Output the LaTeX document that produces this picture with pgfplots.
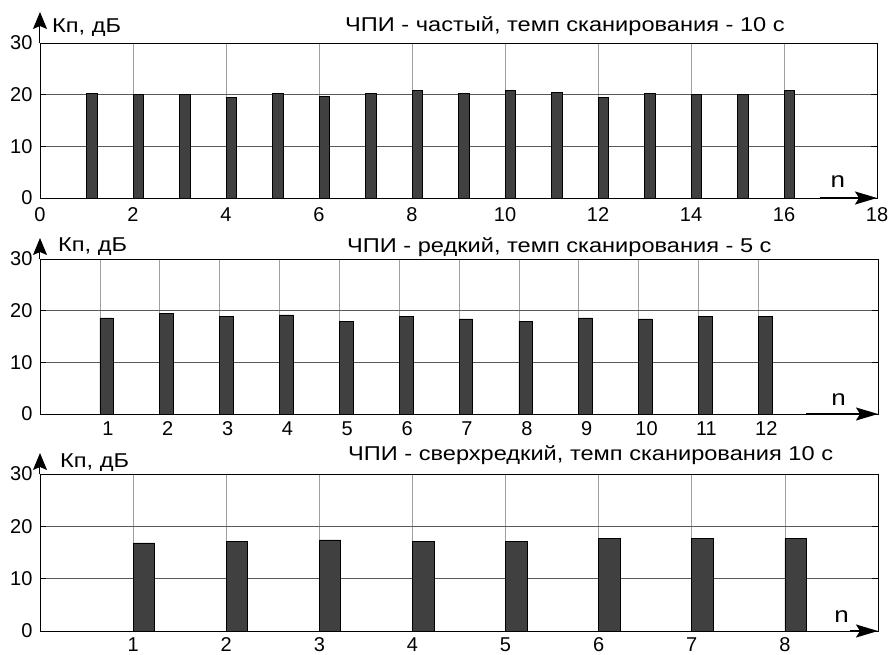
\documentclass[border=0pt]{standalone}
\usepackage{fontspec}
\setmainfont{Liberation Sans}
\newfontfamily\wide{Liberation Sans}[FakeStretch=1.18]
\usepackage{pgfplots}
\pgfplotsset{compat=1.18}
\usetikzlibrary{arrows.meta}
\definecolor{barc}{HTML}{404040}
\pgfplotsset{
  panel/.style={
    scale only axis, width=837pt, height=155pt,
    anchor=south west,
    ymin=0, ymax=30, ytick={0,10,20,30},
    xmajorgrids, ymajorgrids,
    x grid style={gray!75, line width=0.6pt},
    y grid style={black!65, line width=0.7pt},
    axis line style={black, line width=0.9pt},
    ytick style={black, line width=0.8pt},
    xtick style={draw=none},
    major tick length=6pt,
    tick label style={font=\fontsize{20}{24}\selectfont},
    yticklabel style={xshift=-4pt},
    /pgf/number format/assume math mode=true,
    clip=false,
    ybar, bar width=0.23, bar shift=0.115,
  },
}
\tikzset{
  bars/.style={fill=barc, draw=black, line width=0.6pt},
  lab/.style={anchor=base west, font=\wide\fontsize{20}{24}\selectfont, inner sep=0pt},
  nlab/.style={anchor=base, font=\wide\fontsize{22}{24}\selectfont, inner sep=0pt},
}
\begin{document}
\begin{tikzpicture}
\useasboundingbox (0,0) rectangle (891pt,-655pt);
% Panel 1
\begin{axis}[panel, at={(40pt,-198pt)}, xmin=0, xmax=18, xtick={0,2,...,18}]
\addplot[bars] coordinates {(1,20.3) (2,20.0) (3,20.0) (4,19.4) (5,20.3) (6,19.7) (7,20.3) (8,20.8)
 (9,20.3) (10,20.8) (11,20.5) (12,19.4) (13,20.3) (14,20.0) (15,20.0) (16,20.8)};
\draw[line width=1pt, arrows={-Stealth[length=17pt,width=14pt,inset=3pt]}] (rel axis cs:0,1) -- ++(0,31pt);
\draw[line width=1.5pt, arrows={-Stealth[length=22pt,width=13pt,inset=4pt]}] (axis cs:16.77,0) -- (rel axis cs:1,0);
\node[lab, xshift=12pt, yshift=10pt] at (rel axis cs:0,1) {Кп, дБ};
\node[lab, xshift=305pt, yshift=11pt] at (rel axis cs:0,1) {ЧПИ - частый, темп сканирования - 10 с};
\node[nlab, yshift=10pt] at (axis cs:17.16,0) {n};
\end{axis}
% Panel 2
\begin{axis}[panel, at={(40pt,-414pt)}, width=838pt, xmin=0, xmax=14, xtick={1,2,...,12},
  xticklabel style={xshift=8pt, yshift=2pt}]
\addplot[bars] coordinates {(1,18.6) (2,19.4) (3,18.9) (4,19.2) (5,18.0) (6,18.9)
 (7,18.4) (8,18.0) (9,18.6) (10,18.4) (11,18.9) (12,18.9)};
\draw[line width=1pt, arrows={-Stealth[length=17pt,width=14pt,inset=3pt]}] (rel axis cs:0,1) -- ++(0,21pt);
\draw[line width=1.5pt, arrows={-Stealth[length=22pt,width=13pt,inset=4pt]}] (axis cs:12.8,0) -- (rel axis cs:1,0);
\node[lab, xshift=18pt, yshift=8pt] at (rel axis cs:0,1) {Кп, дБ};
\node[lab, xshift=307pt, yshift=7pt] at (rel axis cs:0,1) {ЧПИ - редкий, темп сканирования - 5 с};
\node[nlab, yshift=9pt] at (axis cs:13.34,0) {n};
\end{axis}
% Panel 3
\begin{axis}[panel, at={(40pt,-631pt)}, width=838pt, height=157pt, xmin=0, xmax=9, xtick={1,2,...,8},
  xticklabel style={yshift=3pt}]
\addplot[bars] coordinates {(1,16.85) (2,17.1) (3,17.4) (4,17.1) (5,17.1) (6,17.7) (7,17.7) (8,17.7)};
\draw[line width=1pt, arrows={-Stealth[length=17pt,width=14pt,inset=3pt]}] (rel axis cs:0,1) -- ++(0,21pt);
\draw[line width=1.5pt, arrows={-Stealth[length=22pt,width=13pt,inset=4pt]}] (axis cs:8.7,0) -- (rel axis cs:1,0);
\node[lab, xshift=20pt, yshift=7pt] at (rel axis cs:0,1) {Кп, дБ};
\node[lab, xshift=308pt, yshift=14pt] at (rel axis cs:0,1) {ЧПИ - сверхредкий, темп сканирования 10 с};
\node[nlab, yshift=9pt] at (axis cs:8.61,0) {n};
\end{axis}
\end{tikzpicture}
\end{document}
